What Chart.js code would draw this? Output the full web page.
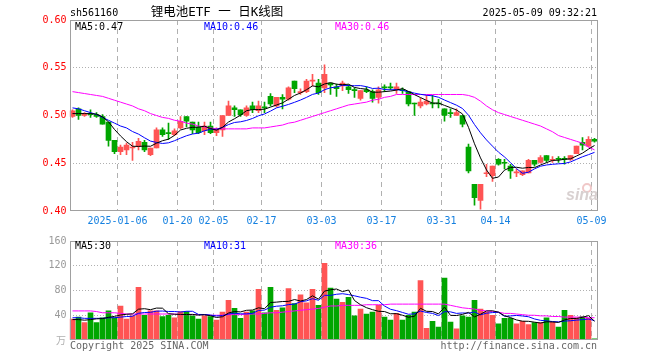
<!DOCTYPE html>
<html>
<head>
<meta charset="utf-8">
<script src="https://cdn.jsdelivr.net/npm/chart.js@4.4.0/dist/chart.umd.min.js"></script>
<style>
  html, body { margin: 0; padding: 0; background: #fff; }
  #wrap { position: relative; width: 660px; height: 360px; }
  .pane { position: absolute; left: 0; width: 660px; }
</style>
</head>
<body>
<div id="wrap">
  <div class="pane" style="top:0;height:232px"><canvas id="kline"></canvas></div>
  <div class="pane" style="top:232px;height:128px"><canvas id="vol"></canvas></div>
</div>
<script>
// trading days shown on the chart
const dates = [
  '2024-12-24','2024-12-25','2024-12-26','2024-12-27','2024-12-30','2024-12-31',
  '2025-01-02','2025-01-03','2025-01-06','2025-01-07','2025-01-08','2025-01-09','2025-01-10',
  '2025-01-13','2025-01-14','2025-01-15','2025-01-16','2025-01-17','2025-01-20','2025-01-21',
  '2025-01-22','2025-01-23','2025-01-24','2025-01-27',
  '2025-02-05','2025-02-06','2025-02-07','2025-02-10','2025-02-11','2025-02-12','2025-02-13',
  '2025-02-14','2025-02-17','2025-02-18','2025-02-19','2025-02-20','2025-02-21','2025-02-24',
  '2025-02-25','2025-02-26','2025-02-27','2025-02-28',
  '2025-03-03','2025-03-04','2025-03-05','2025-03-06','2025-03-07','2025-03-10','2025-03-11',
  '2025-03-12','2025-03-13','2025-03-14','2025-03-17','2025-03-18','2025-03-19','2025-03-20',
  '2025-03-21','2025-03-24','2025-03-25','2025-03-26','2025-03-27','2025-03-28','2025-03-31',
  '2025-04-01','2025-04-02','2025-04-03','2025-04-07','2025-04-08','2025-04-09','2025-04-10',
  '2025-04-11','2025-04-14','2025-04-15','2025-04-16','2025-04-17','2025-04-18','2025-04-21',
  '2025-04-22','2025-04-23','2025-04-24','2025-04-25','2025-04-28','2025-04-29','2025-04-30',
  '2025-05-06','2025-05-07','2025-05-08','2025-05-09'
];
const tickDates = ['2025-01-06','2025-01-20','2025-02-05','2025-02-17','2025-03-03','2025-03-17','2025-03-31','2025-04-14','2025-05-09'];
const tickTexts = ['2025-01-06','01-20','02-05','02-17','03-03','03-17','03-31','04-14','05-09'];

const open = [0.499,0.507,0.500,0.502,0.501,0.499,0.493,0.474,0.462,0.464,
  0.466,0.468,0.472,0.459,0.466,0.485,0.482,0.480,0.487,0.499,
  0.493,0.488,0.484,0.489,0.482,0.485,0.500,0.508,0.506,0.500,
  0.510,0.505,0.509,0.520,0.510,0.519,0.517,0.536,0.524,0.525,
  0.536,0.534,0.529,0.534,0.530,0.531,0.530,0.527,0.518,0.527,
  0.525,0.519,0.530,0.530,0.527,0.527,0.525,0.513,0.510,0.512,
  0.513,0.513,0.507,0.503,0.500,0.500,0.467,0.428,0.411,0.439,
  0.437,0.454,0.451,0.447,0.440,0.438,0.440,0.453,0.451,0.458,
  0.453,0.455,0.455,0.454,0.460,0.472,0.468,0.475];
const high = [0.506,0.508,0.503,0.506,0.503,0.501,0.493,0.474,0.469,0.471,
  0.472,0.476,0.474,0.466,0.487,0.487,0.492,0.486,0.499,0.499,
  0.493,0.493,0.493,0.493,0.487,0.500,0.515,0.510,0.506,0.510,
  0.514,0.515,0.514,0.523,0.519,0.522,0.530,0.536,0.528,0.538,
  0.543,0.538,0.553,0.534,0.533,0.536,0.532,0.529,0.526,0.530,
  0.527,0.530,0.532,0.534,0.534,0.529,0.525,0.513,0.518,0.521,
  0.521,0.517,0.507,0.507,0.507,0.500,0.470,0.428,0.428,0.449,
  0.447,0.455,0.454,0.449,0.444,0.442,0.454,0.453,0.458,0.458,
  0.457,0.457,0.457,0.458,0.468,0.477,0.478,0.476];
const low = [0.498,0.496,0.499,0.498,0.498,0.491,0.468,0.460,0.459,0.459,
  0.453,0.464,0.462,0.458,0.466,0.478,0.475,0.479,0.486,0.488,
  0.481,0.481,0.480,0.481,0.479,0.478,0.500,0.499,0.499,0.499,
  0.503,0.503,0.503,0.510,0.509,0.507,0.516,0.524,0.522,0.524,
  0.531,0.522,0.524,0.522,0.520,0.526,0.523,0.519,0.516,0.524,
  0.514,0.513,0.525,0.527,0.523,0.523,0.510,0.500,0.508,0.511,
  0.508,0.508,0.494,0.498,0.500,0.488,0.440,0.406,0.402,0.436,
  0.431,0.448,0.444,0.434,0.436,0.437,0.440,0.447,0.450,0.451,
  0.451,0.451,0.449,0.453,0.460,0.464,0.467,0.472];
const close = [0.505,0.500,0.502,0.501,0.499,0.491,0.474,0.462,0.467,0.469,
  0.467,0.473,0.464,0.466,0.485,0.480,0.481,0.484,0.494,0.494,
  0.485,0.482,0.489,0.482,0.485,0.500,0.510,0.506,0.501,0.508,
  0.506,0.510,0.508,0.512,0.519,0.517,0.529,0.528,0.525,0.536,
  0.537,0.524,0.543,0.532,0.528,0.534,0.527,0.526,0.526,0.525,
  0.518,0.527,0.529,0.529,0.530,0.526,0.512,0.512,0.514,0.515,
  0.512,0.512,0.500,0.502,0.503,0.491,0.442,0.414,0.428,0.440,
  0.447,0.449,0.450,0.442,0.441,0.442,0.453,0.449,0.456,0.453,
  0.454,0.454,0.454,0.458,0.468,0.469,0.475,0.473];

const ma5 = [0.502,0.502,0.502,0.502,0.5014,0.4986,0.4934,0.4854,0.4786,0.4726,
  0.4678,0.4676,0.468,0.4678,0.471,0.4736,0.4752,0.4792,0.4848,0.4866,
  0.4876,0.4878,0.4888,0.4864,0.4846,0.4876,0.4932,0.4966,0.5004,0.505,
  0.5062,0.5062,0.5066,0.5088,0.511,0.5132,0.517,0.521,0.5236,0.527,
  0.531,0.530,0.533,0.5344,0.5328,0.5322,0.5328,0.5294,0.5282,0.5276,
  0.5244,0.5244,0.525,0.5256,0.5266,0.5282,0.5252,0.5218,0.5188,0.5158,
  0.513,0.513,0.5106,0.5082,0.5058,0.5016,0.4876,0.4704,0.4556,0.443,
  0.4342,0.4356,0.4428,0.4456,0.4458,0.4448,0.4456,0.4454,0.4482,0.4506,
  0.453,0.4532,0.4542,0.4546,0.4576,0.4606,0.4648,0.4686];
const ma10 = [0.508,0.507,0.505,0.503,0.501,0.498,0.495,0.492,0.489,0.487,
  0.4832,0.4805,0.4767,0.4732,0.4718,0.4707,0.4714,0.4736,0.4763,0.4788,
  0.4806,0.4815,0.484,0.4856,0.4856,0.4876,0.4905,0.4927,0.4934,0.4948,
  0.4969,0.4997,0.5016,0.5046,0.508,0.5097,0.5116,0.5138,0.5162,0.519,
  0.5221,0.5235,0.527,0.529,0.5299,0.5316,0.5314,0.5312,0.5313,0.5302,
  0.5283,0.5286,0.5272,0.5269,0.5271,0.5263,0.5248,0.5234,0.5222,0.5212,
  0.5206,0.5191,0.5162,0.5135,0.5108,0.5073,0.5003,0.4905,0.4819,0.4744,
  0.4679,0.4616,0.4566,0.4506,0.4444,0.4395,0.4406,0.4441,0.4469,0.4482,
  0.4489,0.4494,0.4498,0.4514,0.4541,0.4568,0.459,0.4614];
const ma30 = [0.525,0.524,0.523,0.522,0.521,0.520,0.518,0.516,0.514,0.512,
  0.510,0.507,0.505,0.502,0.500,0.498,0.497,0.495,0.494,0.492,
  0.491,0.489,0.488,0.487,0.486,0.486,0.486,0.486,0.486,0.486,
  0.487,0.487,0.487,0.488,0.489,0.490,0.492,0.493,0.495,0.497,
  0.499,0.501,0.503,0.505,0.507,0.509,0.511,0.512,0.513,0.514,
  0.516,0.517,0.519,0.520,0.522,0.522,0.522,0.522,0.522,0.522,
  0.522,0.522,0.522,0.522,0.522,0.522,0.521,0.519,0.515,0.510,
  0.506,0.503,0.501,0.499,0.497,0.495,0.493,0.491,0.489,0.486,
  0.483,0.479,0.477,0.475,0.473,0.471,0.467,0.464];

// volume (10k shares)
const vol = [34,37,28,44,28,36,47,36,55,34,
  39,85,40,47,47,38,40,36,46,46,
  39,34,39,38,32,45,64,51,35,45,
  47,82,44,85,48,52,83,59,73,60,
  82,56,124,84,66,61,69,39,50,42,
  45,56,37,32,43,32,40,45,96,19,
  30,21,100,29,18,39,37,64,50,45,
  40,26,35,35,26,30,25,28,28,36,
  29,21,48,40,36,38,35,2];
const volMa5 = [33,33,32,33,34.2,34.6,36.6,38.2,40.4,41.6,
  42.2,49.8,50.6,49,51.6,51.4,42.4,41.6,41.4,41.2,
  41.4,40.2,40.8,39.2,36.4,37.6,43.6,46,45.4,48,
  48.4,52,50.6,60.6,61.2,62.2,62.4,65.4,63,65.4,
  71.4,66,79,81.2,82.4,78.2,80.8,63.8,57,52.2,
  49,46.4,46,42.4,42.6,40,36.8,38.4,51.2,46.4,
  46,42.2,53.2,39.8,39.6,41.4,44.6,37.4,41.6,47,
  47.2,45,39.2,36.2,32.4,30.4,30.2,28.8,27.4,29.4,
  29.2,28.4,32.4,34.8,34.8,36.6,39.4,30.2];
const volMa10 = [36,36,35,35,35,35,36,36,37,37.9,
  38.4,43.2,44.4,44.7,46.6,46.8,46.1,46.1,45.2,46.4,
  46.4,41.3,41.2,40.3,38.8,39.5,41.9,43.4,42.3,42.2,
  43,47.8,48.3,53,54.6,55.3,57.2,58,61.8,63.3,
  66.8,64.2,72.2,72.1,73.9,74.8,73.4,71.4,69.1,67.3,
  63.6,63.6,54.9,49.7,47.4,44.5,41.6,42.2,46.8,44.5,
  43,39.5,45.8,45.5,43,43.7,43.4,45.3,40.7,43.3,
  44.3,44.8,38.3,38.9,39.7,38.8,37.6,34,31.8,30.9,
  29.8,29.3,30.6,31.1,32.1,32.9,33.9,31.3];
const volMa30 = [47,47,47,47,46,44,44,44,43,42,
  42,42,42,42,42,42,42,42,41,41,
  41,41,41,40,40,40,41,41,41,42,
  42,42,43,44,44,45,46,47,48,49,
  50,51,53,55,55,56,56,56,56,57,
  57,57,57,58,58,58,58,58,58,58,
  58,58,58,56,54,52,51,50,48,47,
  46,45,43,43,42,41,40,40,39,39,
  38,38,37,37,37,37,36,36];

const RED = '#ff5454';
const GREEN = '#00a600';
const MONO = '"DejaVu Sans Mono", monospace';
const CJK = '"Noto Sans CJK SC", sans-serif';
const candleColor = open.map((o, i) => close[i] >= o ? RED : GREEN);

function xScale(showTicks) {
  return {
    type: 'category',
    offset: true,
    grid: {
      offset: true,
      drawTicks: false,
      color: c => tickDates.includes(dates[c.index]) ? '#b0b0b0' : 'rgba(0,0,0,0)',
    },
    border: { display: false, dash: [5, 4] },
    ticks: {
      display: showTicks,
      autoSkip: false,
      maxRotation: 0,
      padding: 4,
      labelOffset: -3,
      color: '#1580e0',
      font: { family: MONO, size: 10 },
      callback: (v, i) => {
        const j = tickDates.indexOf(dates[i]);
        return j < 0 ? '' : tickTexts[j];
      },
    },
    afterFit: s => { s.height = showTicks ? 21 : 20; },
  };
}

function maLine(data, color) {
  return { type: 'line', data: data, borderColor: color, borderWidth: 1, pointRadius: 0, order: 0 };
}

function drawText(ctx, text, x, y, color, font, align) {
  ctx.fillStyle = color;
  ctx.font = font;
  ctx.textAlign = align || 'left';
  ctx.textBaseline = 'middle';
  ctx.fillText(text, x, y);
}

function drawFrame(chart) {
  const { ctx, chartArea: a } = chart;
  ctx.save();
  ctx.strokeStyle = '#a0a0a0';
  ctx.lineWidth = 1;
  const l = Math.round(a.left) + 0.5, r = Math.floor(a.right) + 0.5;
  const t = Math.round(a.top) + 0.5, b = Math.floor(a.bottom) - 0.5;
  ctx.strokeRect(l, t, r - l, b - t);
  ctx.restore();
}

const klineText = {
  id: 'klineText',
  afterDraw(chart) {
    const ctx = chart.ctx;
    drawFrame(chart);
    ctx.save();
    const f = '10px ' + MONO;
    drawText(ctx, 'sh561160', 70, 13, '#000', f);
    drawText(ctx, '锂电池ETF 一 日K线图', 217, 13, '#000', '12.5px "DejaVu Sans Mono", ' + CJK, 'center');
    drawText(ctx, '2025-05-09 09:32:21', 597, 13, '#000', f, 'right');
    const n = close.length - 1;
    drawText(ctx, 'MA5:' + ma5[n].toFixed(2), 75, 27, '#000', f);
    drawText(ctx, 'MA10:' + ma10[n].toFixed(2), 204, 27, '#0000ff', f);
    drawText(ctx, 'MA30:' + ma30[n].toFixed(2), 335, 27, '#ff00ff', f);
    // sina watermark
    ctx.strokeStyle = '#f0c8c8';
    ctx.lineWidth = 2;
    ctx.beginPath();
    ctx.arc(587, 188, 4, 0, Math.PI * 2);
    ctx.stroke();
    drawText(ctx, 'sina', 566, 196, '#d8d0d0', 'italic bold 16px "Liberation Sans", sans-serif');
    ctx.restore();
  },
};

const volText = {
  id: 'volText',
  afterDraw(chart) {
    const ctx = chart.ctx;
    drawFrame(chart);
    ctx.save();
    const f = '10px ' + MONO;
    const n = vol.length - 1;
    drawText(ctx, 'MA5:' + Math.round(volMa5[n]), 75, 14, '#000', f);
    drawText(ctx, 'MA10:' + Math.round(volMa10[n]), 204, 14, '#0000ff', f);
    drawText(ctx, 'MA30:' + Math.round(volMa30[n]), 335, 14, '#ff00ff', f);
    drawText(ctx, '万', 66, 108, '#b0b0b0', '10px ' + CJK, 'right');
    drawText(ctx, 'Copyright 2025 SINA.COM', 70, 114, '#666', f);
    drawText(ctx, 'http://finance.sina.com.cn', 597, 114, '#666', f, 'right');
    ctx.restore();
  },
};

new Chart(document.getElementById('kline'), {
  type: 'bar',
  data: {
    labels: dates,
    datasets: [
      maLine(ma5, '#000000'),
      maLine(ma10, '#0000ff'),
      maLine(ma30, '#ff00ff'),
      {
        data: open.map((o, i) => [o, close[i]]),
        backgroundColor: candleColor,
        barThickness: 5,
        minBarLength: 1,
        grouped: false,
        order: 1,
      },
      {
        data: low.map((l, i) => [l, high[i]]),
        backgroundColor: candleColor,
        barThickness: 1,
        grouped: false,
        order: 2,
      },
    ],
  },
  options: {
    responsive: true,
    maintainAspectRatio: false,
    animation: false,
    layout: { padding: { top: 20, right: 62.5, left: 0, bottom: 0 } },
    plugins: { legend: { display: false }, tooltip: { enabled: false } },
    scales: {
      x: xScale(true),
      y: {
        min: 0.40,
        max: 0.60,
        ticks: {
          stepSize: 0.05,
          padding: 3,
          color: '#ff0000',
          font: { family: MONO, size: 10 },
          callback: v => Number(v).toFixed(2),
        },
        grid: {
          drawTicks: false,
          color: c => (c.tick && c.tick.value > 0.401 && c.tick.value < 0.599) ? '#b0b0b0' : 'rgba(0,0,0,0)',
        },
        border: { display: false, dash: [1, 2] },
        afterFit: s => { s.width = 69.5; },
      },
    },
  },
  plugins: [klineText],
});

new Chart(document.getElementById('vol'), {
  type: 'bar',
  data: {
    labels: dates,
    datasets: [
      maLine(volMa5, '#000000'),
      maLine(volMa10, '#0000ff'),
      maLine(volMa30, '#ff00ff'),
      {
        data: vol,
        backgroundColor: candleColor,
        barThickness: 5,
        grouped: false,
        order: 1,
      },
    ],
  },
  options: {
    responsive: true,
    maintainAspectRatio: false,
    animation: false,
    layout: { padding: { top: 8, right: 62.5, left: 0, bottom: 0 } },
    plugins: { legend: { display: false }, tooltip: { enabled: false } },
    scales: {
      x: xScale(false),
      y: {
        min: 0,
        max: 160,
        ticks: {
          stepSize: 40,
          padding: 3,
          color: '#999999',
          font: { family: MONO, size: 10 },
          callback: v => v === 0 ? '' : v,
        },
        grid: {
          drawTicks: false,
          color: c => (c.tick && c.tick.value > 0 && c.tick.value < 160) ? '#b0b0b0' : 'rgba(0,0,0,0)',
        },
        border: { display: false, dash: [1, 2] },
        afterFit: s => { s.width = 69.5; },
      },
    },
  },
  plugins: [volText],
});
</script>
</body>
</html>
